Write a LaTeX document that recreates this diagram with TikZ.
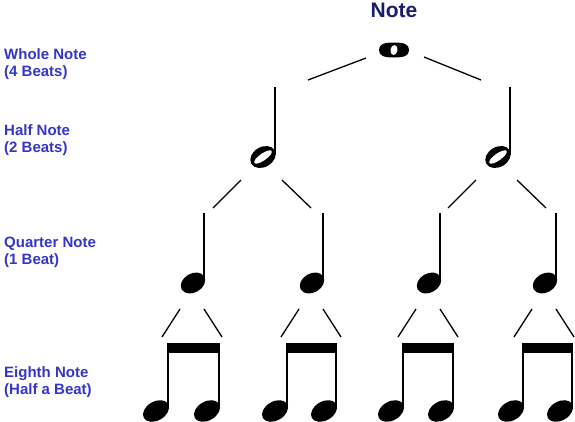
\documentclass[tikz,border=0pt]{standalone}
\usepackage{fontspec}
\setmainfont{Liberation Sans}
\usetikzlibrary{calc,shapes.geometric}
\definecolor{labelblue}{HTML}{3535C8}
\definecolor{titlenavy}{HTML}{1C1C6E}
\begin{document}
\begin{tikzpicture}[x=1pt,y=-1pt,
  lbl/.style={anchor=base west,inner sep=0pt,font=\fontsize{15}{17}\selectfont\bfseries,text=labelblue},
  conn/.style={line width=1.3pt},
  stemline/.style={line width=1.8pt},
  headq/.style={ellipse,fill=black,inner sep=0pt,minimum width=26pt,minimum height=19pt,rotate=30},
  heade/.style={ellipse,fill=black,inner sep=0pt,minimum width=28pt,minimum height=19pt,rotate=30},
  headh/.style={ellipse,fill=black,inner sep=0pt,minimum width=27pt,minimum height=20pt,rotate=30},
  holeh/.style={ellipse,fill=white,inner sep=0pt,minimum width=21pt,minimum height=7pt,rotate=35},
  holew/.style={ellipse,fill=white,inner sep=0pt,minimum width=7pt,minimum height=10pt,rotate=-10}]
\useasboundingbox (0,0) rectangle (575,421);
% title and labels
\node[anchor=base,inner sep=0pt,font=\fontsize{21}{25}\selectfont\bfseries,text=titlenavy] (title) at (394,17) {Note};
\node[lbl] (l1a) at (4,59) {Whole Note};
\node[lbl] (l1b) at (4,76) {(4 Beats)};
\node[lbl] (l2a) at (4,135) {Half Note};
\node[lbl] (l2b) at (4,152) {(2 Beats)};
\node[lbl] (l3a) at (4,247) {Quarter Note};
\node[lbl] (l3b) at (4,264) {(1 Beat)};
\node[lbl] (l4a) at (4,377) {Eighth Note};
\node[lbl] (l4b) at (4,394) {(Half a Beat)};
% whole note
\coordinate (w) at (394,50);
\fill ($(w)+(-15,0)$) .. controls ($(w)+(-15,-5.6)$) and ($(w)+(-10.5,-7.5)$) .. ($(w)+(0,-7.5)$)
  .. controls ($(w)+(10.5,-7.5)$) and ($(w)+(15,-5.6)$) .. ($(w)+(15,0)$)
  .. controls ($(w)+(15,5.6)$) and ($(w)+(10.5,7.5)$) .. ($(w)+(0,7.5)$)
  .. controls ($(w)+(-10.5,7.5)$) and ($(w)+(-15,5.6)$) .. ($(w)+(-15,0)$) -- cycle;
\node[holew] (wh) at (w) {};
% half notes
\foreach \n/\x in {h1/263,h2/498}{
  \node[headh] (\n) at (\x,157) {};
  \node[holeh] (\n hole) at (\x,157) {};
  \draw[stemline] ($(\n)+(12,-2)$) -- ($(\n)+(12,-70)$);
}
% quarter notes
\foreach \n/\x in {q1/193,q2/312,q3/429,q4/545}{
  \node[headq] (\n) at (\x,283) {};
  \draw[stemline] ($(\n)+(11,-2)$) -- ($(\n)+(11,-70)$);
}
% eighth notes
\foreach \a/\b/\xa/\xb in {e1a/e1b/156/207,e2a/e2b/275/324,e3a/e3b/391/441,e4a/e4b/511/560}{
  \node[heade] (\a) at (\xa,411) {};
  \node[heade] (\b) at (\xb,411) {};
  \draw[stemline] ($(\a)+(12,-2)$) -- ($(\a)+(12,-66)$);
  \draw[stemline] ($(\b)+(12,-2)$) -- ($(\b)+(12,-66)$);
  \fill ($(\a)+(11,-68)$) rectangle ($(\b)+(13,-58)$);
}
% connectors whole -> half
\draw[conn] ($(w)+(-28,8)$) -- ($(w)+(-86,30)$);
\draw[conn] ($(w)+(30,7)$) -- ($(w)+(87,30)$);
% half -> quarter
\foreach \n in {h1,h2}{
  \draw[conn] ($(\n)+(-22,23)$) -- ($(\n)+(-50,51)$);
  \draw[conn] ($(\n)+(19,23)$) -- ($(\n)+(48,51)$);
}
% quarter -> eighth
\foreach \n in {q1,q2,q3,q4}{
  \draw[conn] ($(\n)+(-13,26)$) -- ($(\n)+(-31,54)$);
  \draw[conn] ($(\n)+(11,26)$) -- ($(\n)+(29,54)$);
}
\end{tikzpicture}
\end{document}
